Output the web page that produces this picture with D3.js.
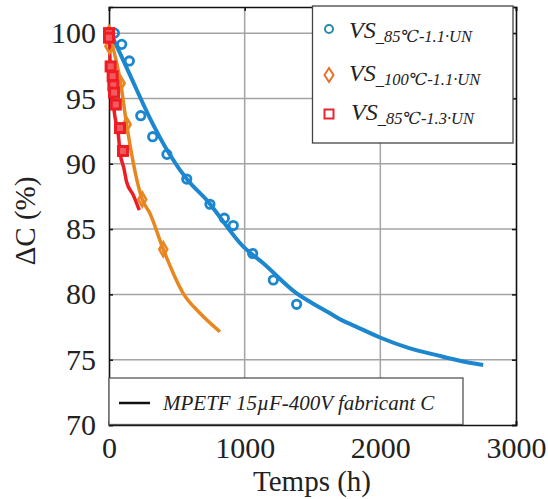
<!DOCTYPE html>
<html>
<head>
<meta charset="utf-8">
<script src="https://cdn.jsdelivr.net/npm/d3@7"></script>
<style>
  html, body { margin: 0; padding: 0; background: #fff; }
  svg { display: block; }
  svg text { font-family: 'Liberation Serif', Times, 'Times New Roman', 'DejaVu Serif', serif; fill: #222; }
</style>
</head>
<body>
<svg id="chart" width="548" height="499"></svg>
<script>
// ---------- data ----------
const xTicks = [0, 1000, 2000, 3000];
const yTicks = [70, 75, 80, 85, 90, 95, 100];

// VS_85°C-1.1·UN (blue) measured points
const blueT = [40, 94, 150, 234, 322, 427, 573, 744, 850, 916, 1059, 1211, 1383];
const blueV = [100, 99.14, 97.87, 93.68, 92.07, 90.72, 88.83, 86.9, 85.83, 85.27, 83.13, 81.1, 79.24];
// blue fitted curve
const blueFitT = [0, 150, 302, 450, 573, 720, 990, 1137, 1383, 1481, 1629, 1715, 1813, 1997, 2218, 2415, 2587, 2758];
const blueFitV = [100.3, 96.9, 93.48, 90.67, 88.83, 87.22, 83.65, 82.38, 80.08, 79.44, 78.55, 78.03, 77.57, 76.7, 75.87, 75.35, 74.92, 74.59];

// VS_100°C-1.1·UN (orange) measured points
const orangeT = [0, 3, 86, 130, 245, 400];
const orangeV = [100, 99.0, 96.16, 93.0, 87.27, 83.45];
// orange fitted curve
const orangeFitT = [0, 86, 130, 245, 302, 400, 547, 671, 818];
const orangeFitV = [100, 96.16, 93.0, 87.27, 86.2, 83.45, 80.08, 78.55, 77.14];

// VS_85°C-1.3·UN (red) measured points
const redT = [0, 0, 12, 27, 32, 37, 50, 81, 103];
const redV = [100, 99.65, 97.45, 96.7, 96.0, 95.45, 94.53, 92.73, 90.98];
// red fitted curve
const redFitT = [0, 7, 20, 44, 69, 81, 110, 130, 179, 223];
const redFitV = [100.1, 98.1, 95.8, 93.6, 92.2, 90.9, 89.65, 88.6, 87.6, 86.45];

const legendLabels = ["85℃-1.1·UN", "100℃-1.1·UN", "85℃-1.3·UN"];
const fitLegendLabel = "MPETF 15µF-400V fabricant C";

// ---------- layout ----------
const svg = d3.select("#chart");
const L = 109, R = 516, T = 7, B = 425;
const x = d3.scaleLinear().domain([0, 3000]).range([L, R]);
const y = d3.scaleLinear().domain([70, 102]).range([B, T]);
const FONT = "'Liberation Serif', Times, 'Times New Roman', 'DejaVu Serif', serif";

const cBlue = "#1c86cf", cOrange = "#e8861f", cRed = "#ee1c25";

svg.append("rect").attr("width", 548).attr("height", 499).attr("fill", "#fff");

// grid
const grid = svg.append("g");
grid.selectAll("line.gx").data(xTicks.filter(d => d > 0 && d < 3000)).enter().append("line")
  .attr("x1", d => x(d)).attr("x2", d => x(d)).attr("y1", T).attr("y2", B)
  .attr("stroke", "#a3a3a3").attr("stroke-width", 1.5);
grid.selectAll("line.gy").data(yTicks.filter(d => d > 70)).enter().append("line")
  .attr("x1", L).attr("x2", R).attr("y1", d => y(d)).attr("y2", d => y(d))
  .attr("stroke", "#a3a3a3").attr("stroke-width", 1.5);

// axes using d3 axis (inward ticks)
const fontSize = 30;
const axB = svg.append("g").attr("transform", `translate(0,${B})`)
  .call(d3.axisBottom(x).tickValues(xTicks).tickSize(-4).tickPadding(12).tickFormat(d3.format("d")));
const axT = svg.append("g").attr("transform", `translate(0,${T})`)
  .call(d3.axisTop(x).tickValues(xTicks).tickSize(-4).tickFormat(""));
const axL = svg.append("g").attr("transform", `translate(${L},0)`)
  .call(d3.axisLeft(y).tickValues(yTicks).tickSize(-4).tickPadding(13).tickFormat(d3.format("d")));
const axR = svg.append("g").attr("transform", `translate(${R},0)`)
  .call(d3.axisRight(y).tickValues(yTicks).tickSize(-4).tickFormat(""));
[axB, axT, axL, axR].forEach(a => {
  a.attr("font-family", FONT);
  a.select(".domain").attr("stroke", "#111").attr("stroke-width", 1.6);
  a.selectAll(".tick line").attr("stroke", "#111").attr("stroke-width", 1.5);
  a.selectAll("text").style("font-family", FONT).attr("font-size", fontSize).attr("fill", "#222");
});
axB.selectAll("text").attr("dy", "0.71em");
axL.selectAll("text").attr("dy", "0.32em");

// axis titles
svg.append("text").attr("x", 312).attr("y", 491).attr("text-anchor", "middle")
  .style("font-family", FONT).attr("font-size", 29).text("Temps (h)");
svg.append("text").attr("transform", "translate(35,221) rotate(-90)").attr("text-anchor", "middle")
  .style("font-family", FONT).attr("font-size", 29).text("ΔC (%)");

// lines
const line = d3.line().x(d => x(d[0])).y(d => y(d[1])).curve(d3.curveMonotoneX);
const zip = (a, b) => a.map((v, i) => [v, b[i]]);
const plot = svg.append("g");
plot.append("path").datum(zip(blueFitT, blueFitV)).attr("d", line)
  .attr("fill", "none").attr("stroke", cBlue).attr("stroke-width", 4).attr("stroke-linejoin", "round");
plot.append("path").datum(zip(orangeFitT, orangeFitV)).attr("d", line)
  .attr("fill", "none").attr("stroke", cOrange).attr("stroke-width", 3.5).attr("stroke-linejoin", "round");
plot.append("path").datum(zip(redFitT, redFitV)).attr("d", line)
  .attr("fill", "none").attr("stroke", cRed).attr("stroke-width", 3.5).attr("stroke-linejoin", "round");

// markers
plot.selectAll("circle.b").data(zip(blueT, blueV)).enter().append("circle")
  .attr("cx", d => x(d[0])).attr("cy", d => y(d[1])).attr("r", 4.2)
  .attr("fill", "none").attr("stroke", cBlue).attr("stroke-width", 2.8);
const diamond = d3.symbol().type(d3.symbolDiamond).size(55);
plot.selectAll("path.o").data(zip(orangeT, orangeV)).enter().append("path")
  .attr("d", diamond).attr("transform", d => `translate(${x(d[0])},${y(d[1])})`)
  .attr("fill", "none").attr("stroke", cOrange).attr("stroke-width", 2.6);
plot.selectAll("rect.r").data(zip(redT, redV)).enter().append("rect")
  .attr("x", d => x(d[0]) - 4.5).attr("y", d => y(d[1]) - 4.5).attr("width", 9).attr("height", 9)
  .attr("fill", "#f25a5f").attr("stroke", cRed).attr("stroke-width", 3);

// top-right legend
const lg = svg.append("g");
lg.append("rect").attr("x", 312.5).attr("y", 6).attr("width", 200.5).attr("height", 137)
  .attr("fill", "#fff").attr("stroke", "#444").attr("stroke-width", 1.3);
const legColors = ["#2a8ba8", "#e8702a", "#e8262e"];
const legY = [38, 81, 120];
const legMarkY = [29, 75, 114];
lg.append("circle").attr("cx", 329).attr("cy", legMarkY[0]).attr("r", 4)
  .attr("fill", "none").attr("stroke", legColors[0]).attr("stroke-width", 2);
lg.append("path").attr("d", "M0,-7L4.5,0L0,7L-4.5,0Z").attr("transform", `translate(329,${legMarkY[1]})`)
  .attr("fill", "none").attr("stroke", legColors[1]).attr("stroke-width", 2);
lg.append("rect").attr("x", 324.5).attr("y", legMarkY[2] - 4.5).attr("width", 9).attr("height", 9)
  .attr("fill", "none").attr("stroke", legColors[2]).attr("stroke-width", 2);
legendLabels.forEach((lab, i) => {
  const t = lg.append("text").attr("x", i === 2 ? 351 : 349).attr("y", legY[i])
    .style("font-family", FONT).attr("font-style", "italic").attr("font-size", 24).attr("fill", "#333");
  t.append("tspan").text("VS");
  t.append("tspan").attr("font-size", 16.5).attr("dy", 3.5).text("_" + lab);
});

// bottom-left legend
const lb = svg.append("g");
lb.append("rect").attr("x", 109).attr("y", 378).attr("width", 354).attr("height", 46.5)
  .attr("fill", "#fff").attr("stroke", "#555").attr("stroke-width", 1.3);
lb.append("line").attr("x1", 119).attr("x2", 150).attr("y1", 403).attr("y2", 403)
  .attr("stroke", "#111").attr("stroke-width", 2.5);
lb.append("text").attr("x", 163).attr("y", 410).style("font-family", FONT).attr("font-style", "italic").attr("font-size", 21)
  .attr("fill", "#333").text(fitLegendLabel);
</script>
</body>
</html>
